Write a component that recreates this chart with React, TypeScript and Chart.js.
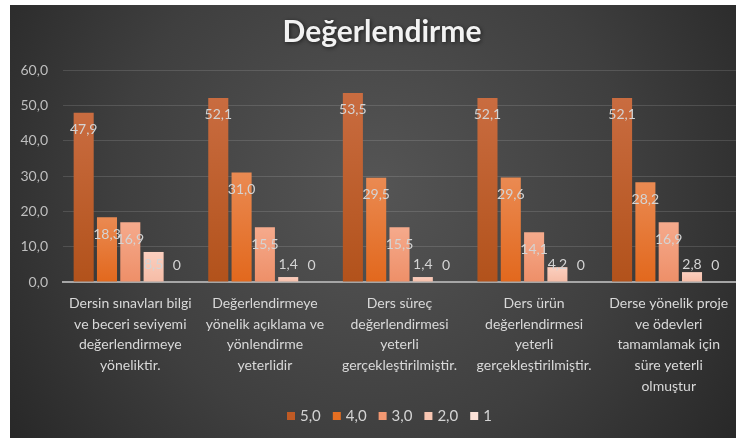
import React, { useEffect, useRef } from "react";
import { Chart, registerables } from "chart.js";

Chart.register(...registerables);

const categories: string[][] = [
  ["Dersin sınavları bilgi", "ve beceri seviyemi", "değerlendirmeye", "yöneliktir."],
  ["Değerlendirmeye", "yönelik açıklama ve", "yönlendirme", "yeterlidir"],
  ["Ders süreç", "değerlendirmesi", "yeterli", "gerçekleştirilmiştir."],
  ["Ders ürün", "değerlendirmesi", "yeterli", "gerçekleştirilmiştir."],
  ["Derse yönelik proje", "ve ödevleri", "tamamlamak için", "süre yeterli", "olmuştur"],
];

const seriesNames = ["5,0", "4,0", "3,0", "2,0", "1"];
const series5 = [47.9, 52.1, 53.5, 52.1, 52.1];
const series4 = [18.3, 31.0, 29.5, 29.6, 28.2];
const series3 = [16.9, 15.5, 15.5, 14.1, 16.9];
const series2 = [8.5, 1.4, 1.4, 4.2, 2.8];
const series1 = [0, 0, 0, 0, 0];
const yMin = 0;
const yMax = 60;
const yStep = 10;
const titleText = "Değerlendirme";

const topColors = ["#c96c40", "#ea8a52", "#f5aa8c", "#fbcfbf", "#fde6dc"];
const bottomColors = ["#b2521b", "#e2681d", "#ee8f68", "#f6bca6", "#fbdcd0"];
const legendColors = ["#bf5a24", "#e66f22", "#f29872", "#f8c6b2", "#fce2d8"];

const fmt = (v: number) => (v === 0 ? "0" : v.toFixed(1).replace(".", ","));

const bgPlugin = {
  id: "bgPlugin",
  beforeDraw(chart: any) {
    const { ctx, width, height } = chart;
    ctx.save();
    const g = ctx.createRadialGradient(width * 0.5, height * 0.42, 0, width * 0.5, height * 0.42, Math.hypot(width, height) * 0.55);
    g.addColorStop(0, "#555555");
    g.addColorStop(0.55, "#3f3f3f");
    g.addColorStop(1, "#252525");
    ctx.fillStyle = g;
    ctx.fillRect(0, 0, width, height);
    ctx.font = "bold 30px Lato";
    ctx.textAlign = "center";
    ctx.textBaseline = "middle";
    ctx.shadowColor = "rgba(0,0,0,0.6)";
    ctx.shadowBlur = 4;
    ctx.shadowOffsetX = 1;
    ctx.shadowOffsetY = 1;
    ctx.fillStyle = "#f2f2f2";
    ctx.fillText(titleText, 372, 27);
    ctx.restore();
  },
};

const labelPlugin = {
  id: "labelPlugin",
  afterDatasetsDraw(chart: any) {
    const { ctx } = chart;
    ctx.save();
    ctx.font = "14px Lato";
    ctx.textAlign = "center";
    ctx.textBaseline = "middle";
    ctx.fillStyle = "#d4d4d4";
    chart.data.datasets.forEach((ds: any, i: number) => {
      const meta = chart.getDatasetMeta(i);
      meta.data.forEach((el: any, j: number) => {
        const v = ds.data[j];
        const cy = Math.min(el.y + 17, el.base - 17);
        ctx.fillText(fmt(v), el.x, cy);
      });
    });
    // legend
    ctx.font = "15px Lato";
    ctx.textAlign = "left";
    let x = 277;
    const cy = 411;
    seriesNames.forEach((n, i) => {
      ctx.fillStyle = legendColors[i];
      ctx.fillRect(x, cy - 4, 8, 8);
      ctx.fillStyle = "#d4d4d4";
      ctx.fillText(n, x + 13, cy);
      x += 13 + ctx.measureText(n).width + 12;
    });
    ctx.restore();
  },
};

const allSeries = [series5, series4, series3, series2, series1];

export default function App() {
  const ref = useRef<HTMLCanvasElement | null>(null);
  useEffect(() => {
    if (!ref.current) return;
    const chart = new Chart(ref.current, {
      type: "bar",
      data: {
        labels: categories,
        datasets: allSeries.map((d, i) => ({
          label: seriesNames[i],
          data: d,
          backgroundColor: (c: any) => {
            const ch = c.chart;
            const ys = ch.scales && ch.scales.y;
            if (!ys || c.parsed == null || c.parsed.y == null) return legendColors[i];
            const top = ys.getPixelForValue(c.parsed.y);
            const bot = ys.getPixelForValue(0);
            if (!isFinite(top) || !isFinite(bot) || bot - top < 1) return topColors[i];
            const g = ch.ctx.createLinearGradient(0, top, 0, bot);
            g.addColorStop(0, topColors[i]);
            g.addColorStop(1, bottomColors[i]);
            return g;
          },
          borderWidth: 0,
          barPercentage: 0.86,
          categoryPercentage: 0.866,
        })),
      },
      options: {
        animation: false,
        responsive: true,
        maintainAspectRatio: false,
        layout: { padding: { top: 65, left: 0, right: 0, bottom: 6 } },
        plugins: {
          title: { display: false },
          tooltip: { enabled: false },
          legend: { display: false },
        },
        scales: {
          x: {
            grid: { display: false },
            border: { display: true, color: "#a6a6a6", width: 2 },
            ticks: {
              color: "#d9d9d9",
              font: { family: "Lato", size: 14, lineHeight: 1.48 },
              padding: 3,
              maxRotation: 0,
              autoSkip: false,
            },
            afterFit: (s: any) => {
              s.height = 150;
            },
          },
          y: {
            min: yMin,
            max: yMax,
            grid: { color: "rgba(255,255,255,0.13)", drawTicks: false },
            border: { display: false },
            ticks: {
              stepSize: yStep,
              color: "#bfbfbf",
              font: { family: "Lato", size: 14 },
              padding: 15,
              callback: (v: any) => Number(v).toFixed(1).replace(".", ","),
            },
            afterFit: (s: any) => {
              s.width = 53;
            },
          },
        },
      },
      plugins: [bgPlugin, labelPlugin],
    });
    return () => chart.destroy();
  }, []);
  return (
    <div style={{ position: "absolute", left: 10, top: 5, width: 726, height: 433 }}>
      <canvas ref={ref} />
    </div>
  );
}
